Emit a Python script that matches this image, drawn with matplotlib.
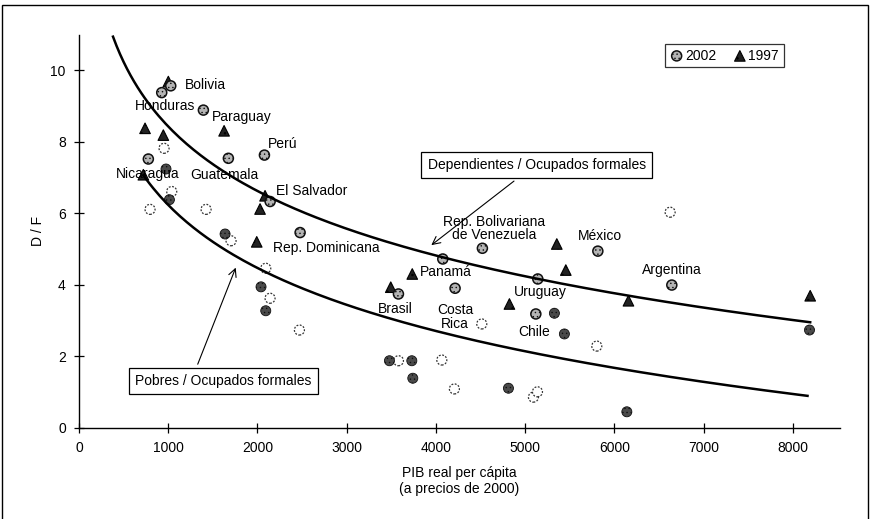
import matplotlib
matplotlib.use("Agg")
import matplotlib.pyplot as plt
import numpy as np
from matplotlib.patches import Rectangle

plt.rcParams["font.family"] = ["Liberation Sans", "DejaVu Sans"]
plt.rcParams["hatch.linewidth"] = 0.5

# D/F 2002 (hatched circles)
df02_x = [1028, 927, 1394, 2078, 777, 1674, 2142, 2478, 3580, 4521, 5815, 4077, 5142, 4215, 6644, 5120]
df02_y = [9.57, 9.38, 8.89, 7.63, 7.52, 7.54, 6.33, 5.46, 3.74, 5.02, 4.94, 4.72, 4.16, 3.90, 3.99, 3.18]

# D/F 1997 (triangles)
df97_x = [1001, 1626, 740, 945, 2085, 2029, 1992, 721, 3735, 3494, 5355, 5456, 6158, 8195, 4824]
df97_y = [9.69, 8.31, 8.38, 8.19, 6.49, 6.12, 5.20, 7.08, 4.30, 3.93, 5.14, 4.41, 3.55, 3.69, 3.46]

# P/F 2002 (open circles)
pf02_x = [953, 1039, 796, 1424, 1704, 2093, 2141, 2470, 3580, 6625, 4514, 5803, 4066, 4207, 5093, 5138]
pf02_y = [7.82, 6.61, 6.11, 6.11, 5.23, 4.46, 3.62, 2.73, 1.87, 6.03, 2.90, 2.28, 1.89, 1.08, 0.85, 1.00]

# P/F 1997 (dark circles)
pf97_x = [975, 1013, 1637, 2040, 2093, 3479, 3730, 3741, 5328, 5440, 8187, 4813, 6140]
pf97_y = [7.24, 6.38, 5.42, 3.94, 3.27, 1.87, 1.87, 1.38, 3.20, 2.62, 2.73, 1.10, 0.44]

# logarithmic trend lines: y = a + b*ln(x), over [x0, x1]
trend_dep = dict(a=26.44, b=-2.607, x0=381, x1=8195)
trend_pob = dict(a=23.82, b=-2.546, x0=721, x1=8165)

countries = ["Bolivia", "Honduras", "Paraguay", "Perú", "Nicaragua", "Guatemala",
             "El Salvador", "Rep. Dominicana", "Brasil", "Rep. Bolivariana\nde Venezuela",
             "México", "Panamá", "Argentina", "Uruguay", "Costa\nRica", "Chile"]
# label anchor (x, y, horizontal alignment)
label_pos = [(1188, 9.59, "left"), (628, 9.0, "left"), (1487, 8.71, "left"),
             (2122, 7.94, "left"), (415, 7.10, "left"), (1244, 7.07, "left"),
             (2208, 6.63, "left"), (2178, 5.04, "left"), (3355, 3.32, "left"),
             (4652, 5.58, "center"), (5590, 5.35, "left"), (3823, 4.35, "left"),
             (6308, 4.41, "left"), (4869, 3.80, "left"), (4215, 3.10, "center"),
             (4925, 2.68, "left")]

fig = plt.figure(figsize=(8.76, 5.19), dpi=100)
ax = fig.add_axes([0.0902, 0.1763, 0.8688, 0.7567])

ms = 52
ax.scatter(pf02_x, pf02_y, s=ms, marker="o", facecolor="white", edgecolor="#333333",
           linewidths=0.9, linestyles=(0, (1.5, 1.2)), zorder=3)
ax.scatter(pf97_x, pf97_y, s=ms, marker="o", facecolor="#4a4a4a", edgecolor="#111111",
           linewidths=0.6, hatch="....", zorder=3)
h97 = ax.scatter(df97_x, df97_y, s=ms + 6, marker="^", facecolor="#222222", edgecolor="black",
                 linewidths=0.8, hatch="..", zorder=3, label="1997")
h02 = ax.scatter(df02_x, df02_y, s=ms, marker="o", facecolor="#b4b4b4", edgecolor="#111111",
                 linewidths=1.1, hatch="....", zorder=3, label="2002")

for tr in (trend_dep, trend_pob):
    xs = np.linspace(tr["x0"], tr["x1"], 200)
    ax.plot(xs, tr["a"] + tr["b"] * np.log(xs), color="black", lw=1.8, zorder=4)

for name, (lx, ly, ha) in zip(countries, label_pos):
    ax.text(lx, ly, name, ha=ha, va="center", fontsize=10, linespacing=0.95, zorder=5)

box = dict(boxstyle="square,pad=0.45", facecolor="white", edgecolor="black", lw=0.9)
ax.annotate("", xy=(3924, 5.06), xytext=(4900, 6.95),
            arrowprops=dict(arrowstyle="->", color="black", lw=0.8, mutation_scale=14))
ax.text(5129, 7.35, "Dependientes / Ocupados formales", ha="center", va="center",
        fontsize=10, bbox=box, zorder=6)
ax.annotate("", xy=(1768, 4.55), xytext=(1319, 1.70),
            arrowprops=dict(arrowstyle="->", color="black", lw=0.8, mutation_scale=14))
ax.text(1615, 1.30, "Pobres / Ocupados formales", ha="center", va="center",
        fontsize=10, bbox=box, zorder=6)

ax.set_xlim(0, 8530)
ax.set_ylim(0, 11)
ax.set_xticks(range(0, 8001, 1000))
ax.set_yticks(range(0, 11, 2))
for s in ("top", "right"):
    ax.spines[s].set_visible(False)
for s in ("left", "bottom"):
    ax.spines[s].set_linewidth(1.0)
ax.tick_params(direction="inout", length=7, width=0.9, labelsize=10, pad=6)
ax.set_ylabel("D / F", fontsize=10, labelpad=4)
ax.set_xlabel("PIB real per cápita\n(a precios de 2000)", fontsize=10, labelpad=8)

leg = ax.legend(handles=[h02, h97], loc="upper right", bbox_to_anchor=(0.935, 0.995),
                ncol=2, frameon=True, fancybox=False, edgecolor="black", fontsize=10,
                handletextpad=0.1, columnspacing=1.2, borderpad=0.35, handlelength=1.0)
leg.get_frame().set_linewidth(0.9)

fig.patches.append(Rectangle((0.002, -0.01), 0.989, 1.0, transform=fig.transFigure,
                             fill=False, edgecolor="black", lw=1.0))

fig.savefig("out.png", dpi=100, facecolor="white")
